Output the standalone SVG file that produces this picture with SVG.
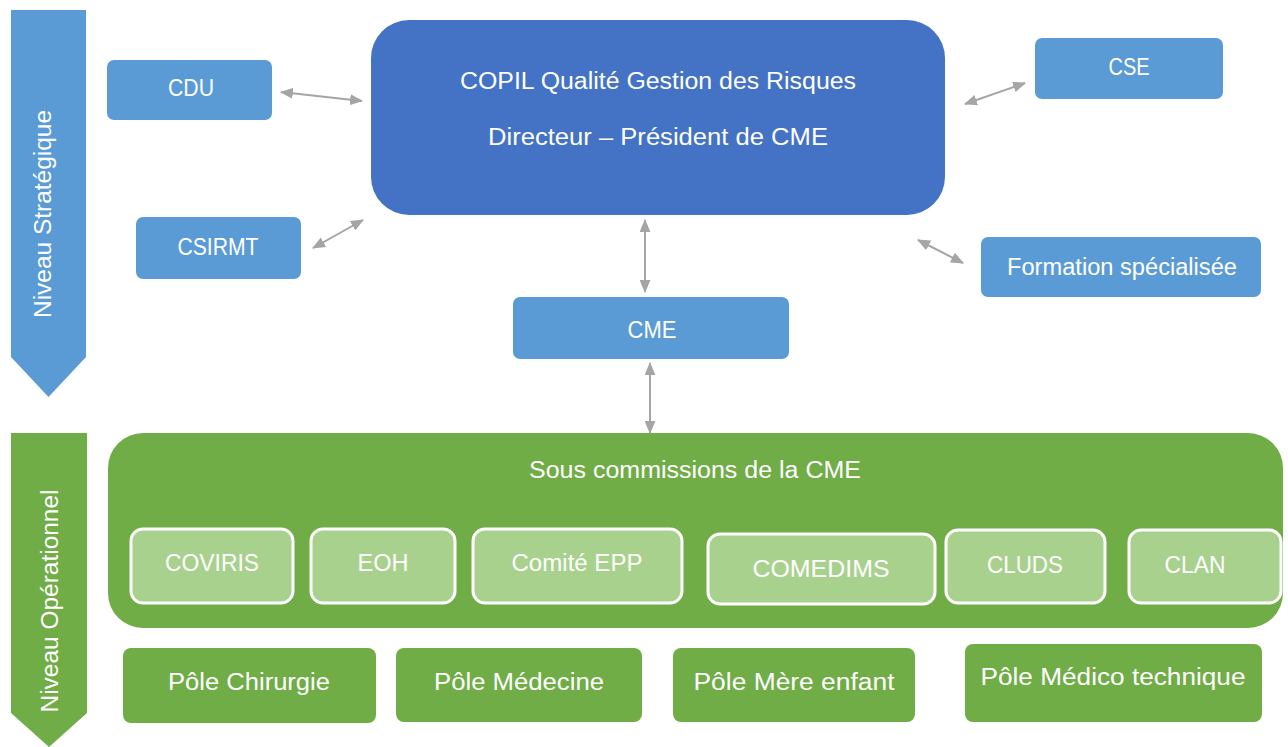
<svg xmlns="http://www.w3.org/2000/svg" width="1288" height="747" viewBox="0 0 1288 747">
<style>
text{font-family:"Liberation Sans",Arial,sans-serif;fill:#fff;text-anchor:middle;font-size:23px}
.blue{fill:#5B9BD5}
.navy{fill:#4472C4}
.green{fill:#70AD47}
.sub{fill:#A9D18E;stroke:#fff;stroke-width:3}
.con{stroke:#A5A5A5;stroke-width:2;fill:none;marker-start:url(#ah);marker-end:url(#ah)}
</style>
<defs>
<marker id="ah" viewBox="0 0 12 10" refX="11" refY="5" markerWidth="13" markerHeight="11" markerUnits="userSpaceOnUse" orient="auto-start-reverse">
<path d="M0,0 L12,5 L0,10 Z" fill="#A5A5A5"/>
</marker>
</defs>
<g id="level-strategique">
<path class="blue" d="M11,10 H86 V357 L48.5,397 L11,357 Z"/>
<text transform="translate(43,214) rotate(-90)" y="8" textLength="208" lengthAdjust="spacingAndGlyphs">Niveau Stratégique</text>
</g>
<g id="level-operationnel">
<path class="green" d="M11,433 H87 V713 L49,747 L11,713 Z"/>
<text transform="translate(50,601) rotate(-90)" y="8" textLength="223" lengthAdjust="spacingAndGlyphs">Niveau Opérationnel</text>
</g>
<g id="copil">
<rect class="navy" x="371" y="20" width="574" height="195" rx="38"/>
<text x="658" y="89" textLength="396" lengthAdjust="spacingAndGlyphs">COPIL Qualité Gestion des Risques</text>
<text x="658" y="145" textLength="340" lengthAdjust="spacingAndGlyphs">Directeur – Président de CME</text>
</g>
<g id="cdu"><rect class="blue" x="107" y="60" width="165" height="60" rx="7"/><text x="191" y="96" textLength="46" lengthAdjust="spacingAndGlyphs">CDU</text></g>
<g id="csirmt"><rect class="blue" x="136" y="217" width="165" height="62" rx="7"/><text x="218" y="255" textLength="81" lengthAdjust="spacingAndGlyphs">CSIRMT</text></g>
<g id="cse"><rect class="blue" x="1035" y="38" width="188" height="61" rx="7"/><text x="1129" y="75" textLength="41" lengthAdjust="spacingAndGlyphs">CSE</text></g>
<g id="formation"><rect class="blue" x="981" y="237" width="280" height="60" rx="7"/><text x="1122" y="275" textLength="230" lengthAdjust="spacingAndGlyphs">Formation spécialisée</text></g>
<g id="cme"><rect class="blue" x="513" y="297" width="276" height="62" rx="7"/><text x="652" y="338" textLength="49" lengthAdjust="spacingAndGlyphs">CME</text></g>
<g id="sous-commissions">
<rect class="green" x="108" y="433" width="1175" height="195" rx="35"/>
<text x="695" y="478" textLength="332" lengthAdjust="spacingAndGlyphs">Sous commissions de la CME</text>
</g>
<g id="coviris"><rect class="sub" x="131" y="529" width="162" height="74" rx="12"/><text x="212" y="571" textLength="94" lengthAdjust="spacingAndGlyphs">COVIRIS</text></g>
<g id="eoh"><rect class="sub" x="311" y="529" width="144" height="74" rx="12"/><text x="383" y="571" textLength="51" lengthAdjust="spacingAndGlyphs">EOH</text></g>
<g id="comite-epp"><rect class="sub" x="473" y="529" width="209" height="74" rx="12"/><text x="577" y="571" textLength="131" lengthAdjust="spacingAndGlyphs">Comité EPP</text></g>
<g id="comedims"><rect class="sub" x="708" y="534" width="227" height="70" rx="12"/><text x="821" y="577" textLength="137" lengthAdjust="spacingAndGlyphs">COMEDIMS</text></g>
<g id="cluds"><rect class="sub" x="946" y="530" width="159" height="73" rx="12"/><text x="1025" y="573" textLength="76" lengthAdjust="spacingAndGlyphs">CLUDS</text></g>
<g id="clan"><rect class="sub" x="1129" y="530" width="152" height="73" rx="12"/><text x="1195" y="573" textLength="61" lengthAdjust="spacingAndGlyphs">CLAN</text></g>
<g id="pole-chirurgie"><rect class="green" x="123" y="648" width="253" height="75" rx="8"/><text x="249" y="690" textLength="162" lengthAdjust="spacingAndGlyphs">Pôle Chirurgie</text></g>
<g id="pole-medecine"><rect class="green" x="396" y="648" width="246" height="74" rx="8"/><text x="519" y="690" textLength="170" lengthAdjust="spacingAndGlyphs">Pôle Médecine</text></g>
<g id="pole-mere-enfant"><rect class="green" x="673" y="648" width="242" height="74" rx="8"/><text x="794" y="690" textLength="201" lengthAdjust="spacingAndGlyphs">Pôle Mère enfant</text></g>
<g id="pole-medico-technique"><rect class="green" x="965" y="644" width="297" height="78" rx="8"/><text x="1113" y="685" textLength="265" lengthAdjust="spacingAndGlyphs">Pôle Médico technique</text></g>
<g id="connectors">
<line class="con" x1="281" y1="92" x2="362" y2="101"/>
<line class="con" x1="313" y1="248" x2="363" y2="220"/>
<line class="con" x1="965" y1="104" x2="1025" y2="83"/>
<line class="con" x1="918" y1="240" x2="963" y2="263"/>
<line class="con" x1="645" y1="220" x2="645" y2="292"/>
<line class="con" x1="650" y1="363" x2="650" y2="433"/>
</g>
</svg>
